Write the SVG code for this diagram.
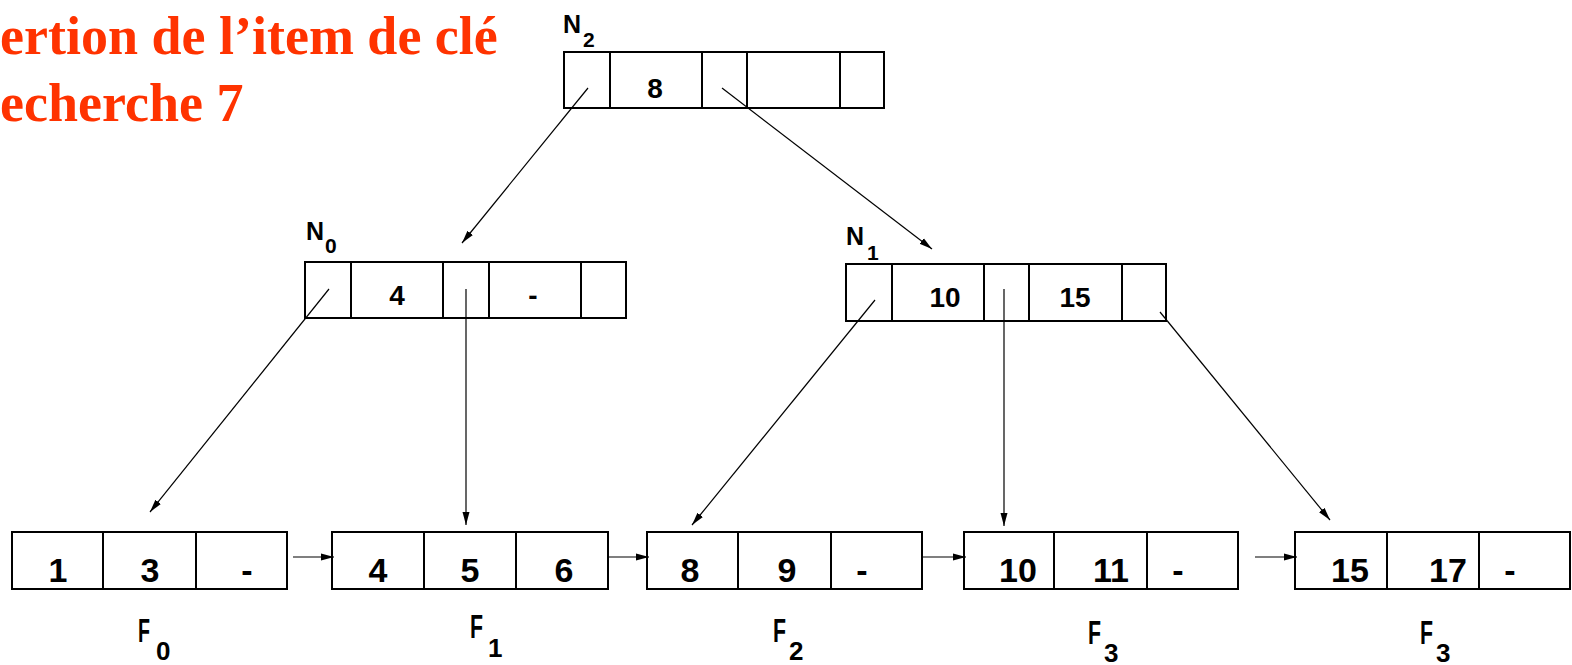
<svg xmlns="http://www.w3.org/2000/svg" width="1572" height="665" viewBox="0 0 1572 665">
<style>
.t{font-family:"Liberation Serif","Times New Roman",serif;font-weight:bold;font-size:54px;fill:#FF3300}
.box{fill:#fff;stroke:#000;stroke-width:2}
.div{stroke:#000;stroke-width:2}
.k{font-family:"Liberation Sans",Arial,sans-serif;font-weight:bold;fill:#000;text-anchor:middle}
.ki{font-size:28px}
.kl{font-size:34px}
.lab{font-family:"Liberation Sans",Arial,sans-serif;font-weight:bold;fill:#000}
.c{stroke:#000;stroke-width:1.2;fill:none;marker-end:url(#ah)}
</style>
<defs>
<marker id="ah" markerUnits="userSpaceOnUse" markerWidth="14" markerHeight="10" refX="13" refY="5" orient="auto">
<path d="M0,1.5 L13,5 L0,8.5 Z" fill="#000"/>
</marker>
</defs>
<g id="title">
<text class="t" x="0" y="54">ertion de l’item de clé</text>
<text class="t" x="0" y="121">echerche 7</text>
</g>
<g id="N2">
<rect class="box" x="564" y="52" width="320" height="56"/>
<line class="div" x1="610" y1="52" x2="610" y2="108"/>
<line class="div" x1="702" y1="52" x2="702" y2="108"/>
<line class="div" x1="747" y1="52" x2="747" y2="108"/>
<line class="div" x1="840" y1="52" x2="840" y2="108"/>
<text class="k ki" x="655" y="98">8</text>
<text class="lab" x="563" y="33" font-size="25">N</text>
<text class="lab" x="583" y="47" font-size="21">2</text>
</g>
<g id="N0">
<rect class="box" x="305" y="262" width="321" height="56"/>
<line class="div" x1="351" y1="262" x2="351" y2="318"/>
<line class="div" x1="443" y1="262" x2="443" y2="318"/>
<line class="div" x1="489" y1="262" x2="489" y2="318"/>
<line class="div" x1="581" y1="262" x2="581" y2="318"/>
<text class="k ki" x="397" y="305">4</text>
<text class="k ki" x="533" y="305">-</text>
<text class="lab" x="306" y="240" font-size="25">N</text>
<text class="lab" x="325" y="253" font-size="21">0</text>
</g>
<g id="N1">
<rect class="box" x="846" y="264" width="320" height="57"/>
<line class="div" x1="892" y1="264" x2="892" y2="321"/>
<line class="div" x1="984" y1="264" x2="984" y2="321"/>
<line class="div" x1="1029" y1="264" x2="1029" y2="321"/>
<line class="div" x1="1122" y1="264" x2="1122" y2="321"/>
<text class="k ki" x="945" y="307">10</text>
<text class="k ki" x="1075" y="307">15</text>
<text class="lab" x="846" y="245" font-size="25">N</text>
<text class="lab" x="867" y="260" font-size="21">1</text>
</g>
<g id="F0">
<rect class="box" x="12" y="532" width="275" height="57"/>
<line class="div" x1="103" y1="532" x2="103" y2="589"/>
<line class="div" x1="196" y1="532" x2="196" y2="589"/>
<text class="k kl" x="58" y="582">1</text>
<text class="k kl" x="150" y="582">3</text>
<text class="k kl" x="247" y="582">-</text>
<text class="lab" x="138" y="642" font-size="34" textLength="12" lengthAdjust="spacingAndGlyphs">F</text>
<text class="lab" x="156" y="660" font-size="26">0</text>
</g>
<g id="F1">
<rect class="box" x="332" y="532" width="276" height="57"/>
<line class="div" x1="424" y1="532" x2="424" y2="589"/>
<line class="div" x1="516" y1="532" x2="516" y2="589"/>
<text class="k kl" x="378" y="582">4</text>
<text class="k kl" x="470" y="582">5</text>
<text class="k kl" x="564" y="582">6</text>
<text class="lab" x="470" y="638" font-size="34" textLength="13" lengthAdjust="spacingAndGlyphs">F</text>
<text class="lab" x="488" y="657" font-size="26">1</text>
</g>
<g id="F2">
<rect class="box" x="647" y="532" width="275" height="57"/>
<line class="div" x1="738" y1="532" x2="738" y2="589"/>
<line class="div" x1="831" y1="532" x2="831" y2="589"/>
<text class="k kl" x="690" y="582">8</text>
<text class="k kl" x="787" y="582">9</text>
<text class="k kl" x="862" y="582">-</text>
<text class="lab" x="773" y="642" font-size="34" textLength="13" lengthAdjust="spacingAndGlyphs">F</text>
<text class="lab" x="789" y="660" font-size="26">2</text>
</g>
<g id="F3">
<rect class="box" x="964" y="532" width="274" height="57"/>
<line class="div" x1="1054" y1="532" x2="1054" y2="589"/>
<line class="div" x1="1147" y1="532" x2="1147" y2="589"/>
<text class="k kl" x="1018" y="582">10</text>
<text class="k kl" x="1111" y="582">11</text>
<text class="k kl" x="1178" y="582">-</text>
<text class="lab" x="1088" y="644" font-size="34" textLength="13" lengthAdjust="spacingAndGlyphs">F</text>
<text class="lab" x="1104" y="662" font-size="26">3</text>
</g>
<g id="F3b">
<rect class="box" x="1295" y="532" width="275" height="57"/>
<line class="div" x1="1387" y1="532" x2="1387" y2="589"/>
<line class="div" x1="1479" y1="532" x2="1479" y2="589"/>
<text class="k kl" x="1350" y="582">15</text>
<text class="k kl" x="1448" y="582">17</text>
<text class="k kl" x="1510" y="582">-</text>
<text class="lab" x="1420" y="644" font-size="34" textLength="13" lengthAdjust="spacingAndGlyphs">F</text>
<text class="lab" x="1436" y="662" font-size="26">3</text>
</g>
<g id="connectors">
<line class="c" x1="588" y1="88" x2="462" y2="243"/>
<line class="c" x1="722" y1="88" x2="932" y2="249"/>
<line class="c" x1="329" y1="289" x2="150" y2="512"/>
<line class="c" x1="466" y1="289" x2="466" y2="525"/>
<line class="c" x1="875" y1="300" x2="692" y2="525"/>
<line class="c" x1="1004" y1="289" x2="1004" y2="526"/>
<line class="c" x1="1160" y1="312" x2="1330" y2="520"/>
<line class="c" x1="293" y1="557" x2="334" y2="557"/>
<line class="c" x1="608" y1="557" x2="649" y2="557"/>
<line class="c" x1="922" y1="557" x2="966" y2="557"/>
<line class="c" x1="1255" y1="557" x2="1297" y2="557"/>
</g>
</svg>
